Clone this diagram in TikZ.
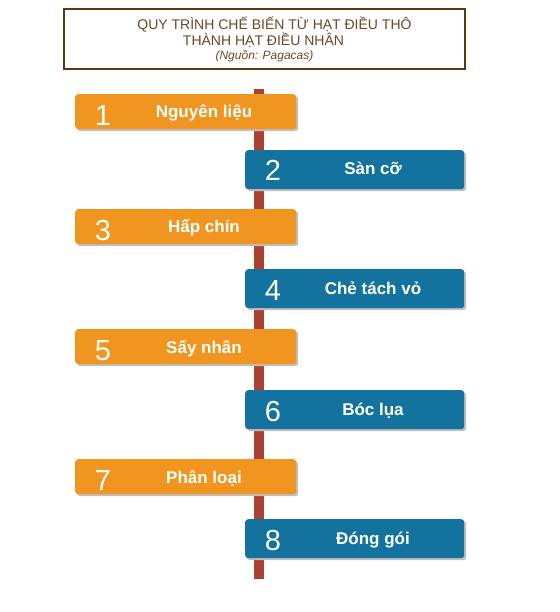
\documentclass[tikz,border=0pt]{standalone}
\usepackage{fontspec}
\setmainfont{Liberation Sans}
\usetikzlibrary{shadows}
\definecolor{orgcol}{HTML}{F0951F}
\definecolor{blucol}{HTML}{13739E}
\definecolor{polecol}{HTML}{AA4131}
\definecolor{titcol}{HTML}{6B4722}
\definecolor{framecol}{HTML}{5A3810}
\tikzset{
    stepor/.style={fill=orgcol, rounded corners=3pt, anchor=north west, inner sep=0pt,
        minimum width=221pt, minimum height=35pt,
        drop shadow={shadow xshift=2pt, shadow yshift=-2pt, fill=black!25, opacity=1}},
    stepbl/.style={stepor, fill=blucol, minimum width=219pt, minimum height=39pt},
    numtxt/.style={text=white, anchor=base, inner sep=0pt, font=\fontsize{29}{29}\selectfont},
    labtxt/.style={text=white, anchor=base, inner sep=0pt, font=\bfseries\fontsize{17}{17}\selectfont},
    tittxt/.style={text=titcol, anchor=base, inner sep=0pt, font=\fontsize{14}{16}\selectfont}
}
\begin{document}
\begin{tikzpicture}[x=1pt,y=-1pt]
    \useasboundingbox (0,0) rectangle (559,612);
    % title
    \draw[framecol, line width=1.2pt] (64,9) rectangle (465,69);
    \node[tittxt] (t1) at (274.5,30) {QUY TRÌNH CHẾ BIẾN TỪ HẠT ĐIỀU THÔ};
    \node[tittxt] (t2) at (263.5,46) {THÀNH HẠT ĐIỀU NHÂN};
    \node[tittxt, font=\itshape\fontsize{12}{14}\selectfont] (t3) at (264.5,60) {(Nguồn: Pagacas)};
    % pole
    \fill[polecol] (254,89) rectangle (264,579);
    % steps
    \node[stepor] (b1) at (75,94) {};
    \node[numtxt] (n1) at (103,126) {1};
    \node[labtxt] (l1) at (204,118) {Nguyên liệu};
    \node[stepbl] (b2) at (245,150) {};
    \node[numtxt] (n2) at (273,181) {2};
    \node[labtxt] (l2) at (373,175) {Sàn cỡ};
    \node[stepor] (b3) at (75,209) {};
    \node[numtxt] (n3) at (103,240) {3};
    \node[labtxt] (l3) at (204,233) {Hấp chín};
    \node[stepbl] (b4) at (245,269) {};
    \node[numtxt] (n4) at (273,300) {4};
    \node[labtxt] (l4) at (373,294) {Chẻ tách vỏ};
    \node[stepor] (b5) at (75,329) {};
    \node[numtxt] (n5) at (103,360) {5};
    \node[labtxt] (l5) at (204,353) {Sấy nhân};
    \node[stepbl] (b6) at (245,390) {};
    \node[numtxt] (n6) at (273,421) {6};
    \node[labtxt] (l6) at (373,415) {Bóc lụa};
    \node[stepor] (b7) at (75,459) {};
    \node[numtxt] (n7) at (103,490) {7};
    \node[labtxt] (l7) at (204,483) {Phân loại};
    \node[stepbl] (b8) at (245,519) {};
    \node[numtxt] (n8) at (273,550) {8};
    \node[labtxt] (l8) at (373,544) {Đóng gói};
\end{tikzpicture}
\end{document}
